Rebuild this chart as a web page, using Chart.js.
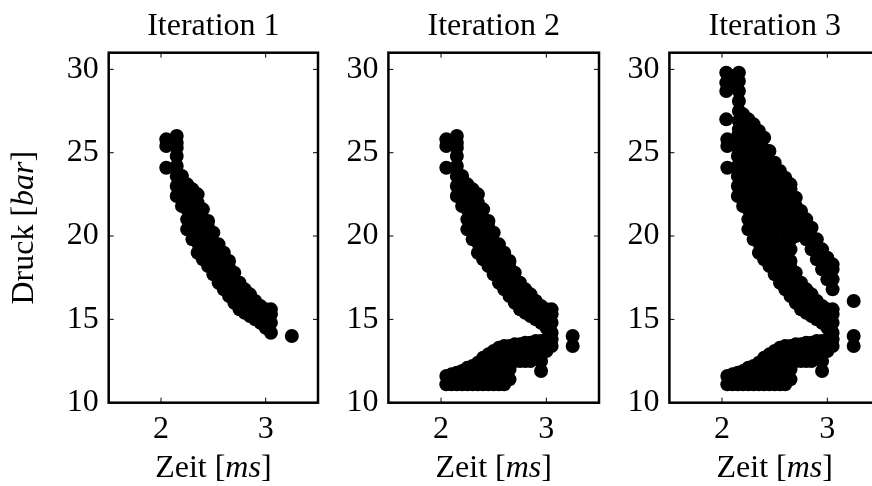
<!DOCTYPE html>
<html>
<head>
<meta charset="utf-8">
<script src="https://cdn.jsdelivr.net/npm/chart.js@4"></script>
<style>
    html, body { margin: 0; padding: 0; background: #fff; overflow: hidden; width: 872px; height: 486px; }
    canvas { position: absolute; top: 0; }
</style>
</head>
<body>
<canvas id="panel1" width="325" height="486" style="left:0px"></canvas>
<canvas id="panel2" width="276" height="486" style="left:330px"></canvas>
<canvas id="panel3" width="276" height="486" style="left:611px"></canvas>
<script>
/* ---- Daten: je Zeile [Zeit, Druck, Druck, ...] ---- */
var xTickValues = [2, 3];
var yTickValues = [10, 15, 20, 25, 30];

// Iteration 1: fallender Ast
var iteration1 = [
    [2.05, 24.1, 25.4, 25.8],
    [2.10, 25.6],
    [2.15, 22.4, 23.0, 23.6, 24.2, 24.8, 25.3, 25.6, 26.0],
    [2.20, 21.8, 22.4, 23.0, 23.6],
    [2.25, 20.4, 21.0, 21.6, 22.2, 22.7, 23.1],
    [2.30, 19.8, 20.4, 21.0, 21.6, 22.2, 22.8],
    [2.35, 19.0, 19.6, 20.2, 20.8, 21.4, 22.0, 22.5],
    [2.40, 18.6, 19.2, 19.8, 20.4, 21.0, 21.6],
    [2.45, 18.2, 18.8, 19.4, 20.0, 20.5, 20.9],
    [2.50, 17.7, 18.3, 18.9, 19.5, 20.2],
    [2.55, 17.2, 17.8, 18.4, 19.0, 19.5],
    [2.60, 16.8, 17.4, 18.0, 18.5, 19.0],
    [2.65, 16.4, 17.0, 17.6, 18.1, 18.5],
    [2.70, 16.0, 16.6, 17.2, 17.8],
    [2.75, 15.6, 16.2, 16.8, 17.2],
    [2.80, 15.4, 16.0, 16.5, 16.8],
    [2.85, 15.2, 15.8, 16.5],
    [2.90, 15.0, 15.6, 16.1],
    [2.95, 14.8, 15.3, 15.8],
    [3.00, 14.5, 15.1, 15.6],
    [3.05, 14.2, 14.8, 15.3, 15.6],
    [3.25, 14.0]
];

// Iteration 2: neu hinzugekommener unterer Ast
var iteration2 = [
    [2.05, 11.1, 11.6],
    [2.10, 11.1, 11.7],
    [2.15, 11.1, 11.8],
    [2.20, 11.1, 11.5, 11.9],
    [2.25, 11.1, 11.6, 12.1],
    [2.30, 11.1, 11.7, 12.2],
    [2.35, 11.1, 11.8, 12.4],
    [2.40, 11.1, 11.8, 12.4, 12.7],
    [2.45, 11.1, 11.8, 12.4, 12.9],
    [2.50, 11.1, 11.7, 12.4, 13.1],
    [2.55, 11.1, 11.7, 12.4, 13.3],
    [2.60, 11.1, 11.7, 12.4, 13.0, 13.4],
    [2.65, 11.4, 12.0, 12.6, 13.1, 13.4],
    [2.70, 12.5, 13.0, 13.5],
    [2.75, 12.5, 13.0, 13.5],
    [2.80, 12.5, 13.0, 13.6],
    [2.85, 12.5, 13.1, 13.6],
    [2.90, 12.8, 13.3, 13.7],
    [2.95, 11.9, 12.5, 13.0, 13.4, 13.7],
    [3.00, 13.1, 13.5, 13.8],
    [3.05, 13.4, 13.8],
    [3.25, 13.4]
];

// Iteration 3: oberer Bereich und zweiter fallender Ast
var iteration3 = [
    [2.04, 27.0, 28.7, 29.2, 29.8],
    [2.10, 29.0, 29.6],
    [2.16, 26.4, 26.9, 27.5, 28.1, 28.7, 29.3, 29.8],
    [2.20, 24.2, 24.8, 25.4, 26.0, 26.6, 27.3],
    [2.25, 23.6, 24.4, 25.0, 25.6, 26.2, 26.6, 27.0],
    [2.30, 23.3, 23.9, 24.5, 25.1, 25.7, 26.2, 26.7],
    [2.35, 23.0, 23.6, 24.2, 24.8, 25.4, 25.9, 26.3],
    [2.40, 22.2, 22.8, 23.4, 24.0, 24.6, 25.2, 25.9],
    [2.45, 21.5, 22.1, 22.7, 23.3, 23.9, 24.5, 25.1],
    [2.50, 20.8, 21.4, 22.0, 22.6, 23.2, 23.8, 24.4],
    [2.55, 20.9, 21.5, 22.1, 22.7, 23.3, 23.9],
    [2.60, 19.6, 20.2, 20.8, 21.4, 22.0, 22.6, 23.2, 23.5],
    [2.65, 19.2, 19.8, 20.4, 21.0, 21.6, 22.2, 22.8, 23.1],
    [2.70, 20.0, 20.6, 21.2, 21.8, 22.3],
    [2.75, 20.2, 20.8, 21.5],
    [2.80, 19.8, 20.4, 21.0],
    [2.85, 19.2, 19.8, 20.5],
    [2.90, 18.6, 19.2, 19.8],
    [2.95, 18.0, 18.6, 19.2],
    [3.00, 17.4, 18.0, 18.7],
    [3.05, 16.8, 17.4, 18.0, 18.3],
    [3.25, 16.1]
];

var xTitleParts = [['Zeit [', false], ['ms', true], [']', false]];
var yTitleParts = [['Druck [', false], ['bar', true], [']', false]];

var FONT = '"Liberation Serif", "DejaVu Serif", serif';
var FONT_SIZE = 32;

function toPoints(rows) {
    var pts = [];
    rows.forEach(function(row) {
        for (var i = 1; i < row.length; i++) {
            pts.push({ x: row[0], y: row[i] });
        }
    });
    return pts;
}

/* ---- Text mit kursiven Teilen (Einheiten) ---- */
function drawMixed(ctx, parts, cx, baseline) {
    var widths = parts.map(function(p) {
        ctx.font = (p[1] ? 'italic ' : '') + FONT_SIZE + 'px ' + FONT;
        return ctx.measureText(p[0]).width;
    });
    var total = widths.reduce(function(a, b) { return a + b; }, 0);
    var x = cx - total / 2;
    ctx.textAlign = 'left';
    ctx.textBaseline = 'alphabetic';
    parts.forEach(function(p, i) {
        ctx.font = (p[1] ? 'italic ' : '') + FONT_SIZE + 'px ' + FONT;
        ctx.fillText(p[0], x, baseline);
        x += widths[i];
    });
}

/* ---- Rahmen mit nach innen zeigenden Ticks ---- */
var framePlugin = {
    id: 'frame',
    afterDatasetsDraw: function(chart) {
        var ctx = chart.ctx, a = chart.chartArea;
        var sx = chart.scales.x, sy = chart.scales.y;
        ctx.save();
        ctx.strokeStyle = '#000';
        ctx.lineWidth = 1;
        ctx.beginPath();
        xTickValues.forEach(function(v) {
            var px = sx.getPixelForValue(v);
            ctx.moveTo(px, a.top); ctx.lineTo(px, a.top + 5);
            ctx.moveTo(px, a.bottom); ctx.lineTo(px, a.bottom - 5);
        });
        yTickValues.forEach(function(v) {
            var py = sy.getPixelForValue(v);
            ctx.moveTo(a.left, py); ctx.lineTo(a.left + 5, py);
            ctx.moveTo(a.right, py); ctx.lineTo(a.right - 5, py);
        });
        ctx.stroke();
        ctx.lineWidth = 2.5;
        ctx.strokeRect(a.left, a.top, a.right - a.left, a.bottom - a.top);
        ctx.restore();
    }
};

/* ---- Titel ueber dem Plotbereich und Achsenbeschriftungen ---- */
var textPlugin = {
    id: 'panelText',
    afterDraw: function(chart, args, opts) {
        var ctx = chart.ctx, a = chart.chartArea;
        var cx = (a.left + a.right) / 2;
        ctx.save();
        ctx.fillStyle = '#000';
        ctx.font = FONT_SIZE + 'px ' + FONT;
        ctx.textAlign = 'center';
        ctx.textBaseline = 'alphabetic';
        ctx.fillText(opts.title, cx, 35);
        drawMixed(ctx, xTitleParts, cx, 477);
        if (opts.showY) {
            ctx.translate(33, (a.top + a.bottom) / 2);
            ctx.rotate(-Math.PI / 2);
            drawMixed(ctx, yTitleParts, 0, 0);
        }
        ctx.restore();
    }
};

Chart.defaults.font.family = FONT;
Chart.defaults.font.size = FONT_SIZE;
Chart.defaults.color = '#000';

var panels = [
    { id: 'panel1', title: 'Iteration 1', rows: iteration1, yWidth: 108.7, rightPad: 4.3, showY: true },
    { id: 'panel2', title: 'Iteration 2', rows: iteration1.concat(iteration2), yWidth: 58.4, rightPad: 4.4, showY: false },
    { id: 'panel3', title: 'Iteration 3', rows: iteration1.concat(iteration2, iteration3), yWidth: 58.4, rightPad: 4.4, showY: false }
];

panels.forEach(function(p) {
    new Chart(document.getElementById(p.id), {
        type: 'scatter',
        data: {
            datasets: [{
                data: toPoints(p.rows),
                backgroundColor: '#000',
                borderWidth: 0,
                pointRadius: 7,
                pointHoverRadius: 7
            }]
        },
        options: {
            responsive: false,
            animation: false,
            layout: { padding: { left: 0, right: p.rightPad, top: 52.7, bottom: 0 } },
            plugins: {
                legend: { display: false },
                tooltip: { enabled: false },
                title: { display: false },
                panelText: { title: p.title, showY: p.showY }
            },
            scales: {
                x: {
                    type: 'linear',
                    min: 1.5,
                    max: 3.5,
                    grid: { display: false, drawTicks: false },
                    border: { display: false },
                    ticks: { autoSkip: false, maxRotation: 0, padding: 11, font: { lineHeight: 1 } },
                    afterBuildTicks: function(s) { s.ticks = xTickValues.map(function(v) { return { value: v }; }); },
                    afterFit: function(s) { s.height = 83.3; }
                },
                y: {
                    type: 'linear',
                    min: 10,
                    max: 31,
                    grid: { display: false, drawTicks: false },
                    border: { display: false },
                    ticks: { autoSkip: false, padding: 10, font: { lineHeight: 1 } },
                    afterBuildTicks: function(s) { s.ticks = yTickValues.map(function(v) { return { value: v }; }); },
                    afterFit: function(s) { s.width = p.yWidth; }
                }
            }
        },
        plugins: [framePlugin, textPlugin]
    });
});
</script>
</body>
</html>
